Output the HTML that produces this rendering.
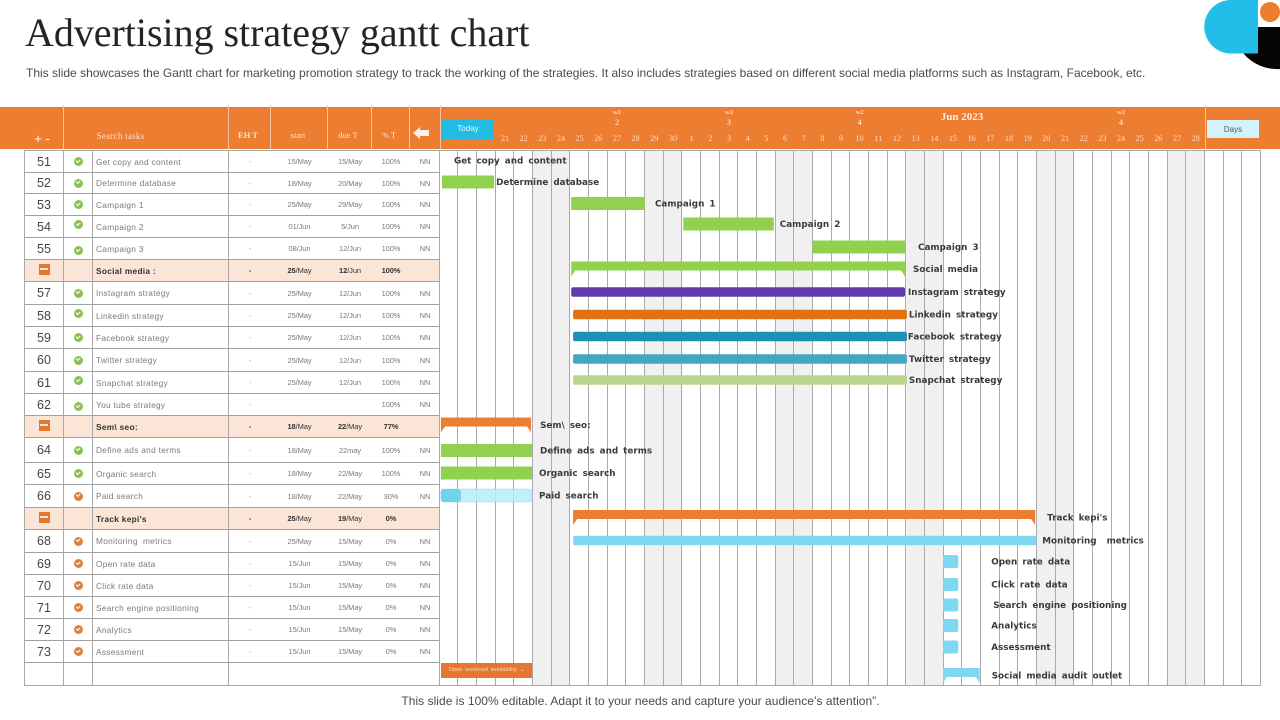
<!DOCTYPE html>
<html lang="en">
<head>
<meta charset="utf-8">
<title>Advertising strategy gantt chart</title>
<style>
html,body{margin:0;padding:0;background:#fff}
#page{position:relative;width:1280px;height:720px;overflow:hidden;background:#fff;font-family:"Liberation Sans",sans-serif}
.abs{position:absolute;white-space:nowrap}
#title{left:25px;top:11px;font:40px/44px "Liberation Serif",serif;color:#252525;letter-spacing:-.03px}
#subtitle{left:26px;top:66px;font-size:12px;line-height:15px;color:#4a4a4a;letter-spacing:.005px}
#footer{left:0;width:1281px;text-align:center;top:694px;font-size:12px;line-height:15px;color:#4a4a4a;letter-spacing:.03px}
#header-band{left:0;top:107px;width:1280px;height:42px;background:#ed7d31}
.hsep{position:absolute;top:105px;height:44px;width:1px;background:#f4c6a5}
.ht{position:absolute;font-family:"Liberation Serif",serif;color:#fbe3d2;font-size:8.5px;line-height:10px;text-align:center;transform:translateX(-50%);white-space:nowrap}
#today{left:442px;top:119px;width:52px;height:20px;background:#22bbe3;color:#e8fbff;font-size:8px;line-height:20px;text-align:center}
#days{left:1207px;top:120px;width:52px;height:18px;background:#d3f2fb;color:#555;font-size:8px;line-height:19px;text-align:center}
#grid{position:absolute;left:24px;top:150px;width:416px;border-collapse:separate;border-spacing:0;table-layout:fixed;border-top:1px solid #a8a8a8;border-left:1px solid #aaa;box-sizing:border-box}
#grid td{box-sizing:border-box;padding:0;border-bottom:1px solid #a0a0a0;font-size:7.5px;color:#7a7a7a;text-align:center;vertical-align:middle;white-space:nowrap;overflow:hidden;letter-spacing:-.1px}
#grid td.n{font-size:12.5px;color:#444;border-right:1px solid #aaa;letter-spacing:0}
#grid td.i{border-right:1px solid #aaa;line-height:0}
#grid td.t{text-align:left;padding-left:3px;border-right:1px solid #aaa;font-size:8.3px;letter-spacing:.3px}
#grid td.d{color:#aaa}
#grid tr.s td{background:#fbe5d6;color:#333}
#grid tr.s td.t{font-weight:bold;color:#333}
#grid tr.s td b{color:#333}
.ic{display:inline-block;width:9px;height:9px;border-radius:50%;background:#8cc152;position:relative}
.ic:after{content:"";position:absolute;left:2.3px;top:1.8px;width:3.4px;height:1.8px;border-left:1.3px solid #fff;border-bottom:1.3px solid #fff;transform:rotate(-45deg)}
.ic.o{background:#dd7f3e}
.up{top:-2px}.dn{top:2px}
.minus{display:inline-block;width:11px;height:11px;background:#e5782e;position:relative}
.minus:after{content:"";position:absolute;left:1.5px;top:4.5px;width:8px;height:2px;background:#fbe5d6}
#workload{left:441px;top:663px;width:91px;height:15px;background:#e5782e;color:#fbdcc4;font-size:5.5px;line-height:15px;text-align:center;letter-spacing:.1px;word-spacing:1px}
#chart{position:absolute;left:0;top:0;width:1280px;height:720px}
</style>
</head>
<body>
<div id="page">
  <div id="title" class="abs">Advertising strategy gantt chart</div>
  <div id="subtitle" class="abs">This slide showcases the Gantt chart for marketing promotion strategy to track the working of the strategies. It also includes strategies based on different social media platforms such as Instagram, Facebook, etc.</div>

  <svg class="abs" style="left:1200px;top:0" width="80" height="72" viewBox="1200 0 80 72">
    <path d="M1258 27H1280V69A44 44 0 0 1 1243 53H1258Z" fill="#050505"/>
    <path d="M1231 0H1258V53.500H1231A26.750 26.750 0 0 1 1231 0Z" fill="#22bde8"/>
    <circle cx="1270" cy="12" r="10" fill="#ed7d31"/>
  </svg>

  <div id="header-band" class="abs"></div>
  <div class="hsep" style="left:63px"></div>
  <div class="hsep" style="left:228px"></div>
  <div class="hsep" style="left:270px"></div>
  <div class="hsep" style="left:327px"></div>
  <div class="hsep" style="left:371px"></div>
  <div class="hsep" style="left:409px"></div>
  <div class="hsep" style="left:440px"></div>
  <div class="hsep" style="left:1205px"></div>

  <div class="ht" style="left:42px;top:133px;font:13px/11px 'Liberation Sans',sans-serif;color:#fff">+ -</div>
  <div class="ht" style="left:120.500px;top:131px;font-size:9px;letter-spacing:.25px">Search tasks</div>
  <div class="ht" style="left:248px;top:130px;font-weight:bold">EH T</div>
  <div class="ht" style="left:298px;top:130px">start</div>
  <div class="ht" style="left:348px;top:130px">due T</div>
  <div class="ht" style="left:389px;top:130px">% T</div>
  <svg class="abs" style="left:413px;top:127px" width="16" height="12" viewBox="0 0 16 12"><path d="M0 6L7 0V3H16V9H7V12Z" fill="#fdf0e6"/></svg>
  <div id="today" class="abs">Today</div>
  <div id="days" class="abs">Days</div>
  <div class="ht" style="left:962px;top:111px;font-size:11px;line-height:12px;font-weight:bold;color:#fdeee2">Jun 2023</div>

  <table id="grid">
    <colgroup><col style="width:39px"><col style="width:29px"><col style="width:136px"><col style="width:42px"><col style="width:57px"><col style="width:44px"><col style="width:38px"><col style="width:30px"></colgroup>
    <tbody>
      <tr style="height:22px"><td class="n">51</td><td class="i"><span class="ic"></span></td><td class="t">Get copy and content</td><td class="d">-</td><td>15/May</td><td>15/May</td><td>100%</td><td>NN</td></tr>
      <tr style="height:21px"><td class="n">52</td><td class="i"><span class="ic"></span></td><td class="t">Determine database</td><td class="d">-</td><td>18/May</td><td>20/May</td><td>100%</td><td>NN</td></tr>
      <tr style="height:22px"><td class="n">53</td><td class="i"><span class="ic"></span></td><td class="t">Campaign 1</td><td class="d">-</td><td>25/May</td><td>29/May</td><td>100%</td><td>NN</td></tr>
      <tr style="height:22px"><td class="n">54</td><td class="i"><span class="ic up"></span></td><td class="t">Campaign 2</td><td class="d">-</td><td>01/Jun</td><td>5/Jun</td><td>100%</td><td>NN</td></tr>
      <tr style="height:22px"><td class="n">55</td><td class="i"><span class="ic dn"></span></td><td class="t">Campaign 3</td><td class="d">-</td><td>08/Jun</td><td>12/Jun</td><td>100%</td><td>NN</td></tr>
      <tr class="s" style="height:22px"><td class="n"><span class="minus"></span></td><td class="i"></td><td class="t">Social media :</td><td><b>-</b></td><td><b>25</b>/May</td><td><b>12</b>/Jun</td><td><b>100%</b></td><td></td></tr>
      <tr style="height:23px"><td class="n">57</td><td class="i"><span class="ic"></span></td><td class="t">Instagram strategy</td><td class="d">-</td><td>25/May</td><td>12/Jun</td><td>100%</td><td>NN</td></tr>
      <tr style="height:22px"><td class="n">58</td><td class="i"><span class="ic up"></span></td><td class="t">Linkedin strategy</td><td class="d">-</td><td>25/May</td><td>12/Jun</td><td>100%</td><td>NN</td></tr>
      <tr style="height:22px"><td class="n">59</td><td class="i"><span class="ic"></span></td><td class="t">Facebook strategy</td><td class="d">-</td><td>25/May</td><td>12/Jun</td><td>100%</td><td>NN</td></tr>
      <tr style="height:23px"><td class="n">60</td><td class="i"><span class="ic"></span></td><td class="t">Twitter strategy</td><td class="d">-</td><td>25/May</td><td>12/Jun</td><td>100%</td><td>NN</td></tr>
      <tr style="height:22px"><td class="n">61</td><td class="i"><span class="ic up"></span></td><td class="t">Snapchat strategy</td><td class="d">-</td><td>25/May</td><td>12/Jun</td><td>100%</td><td>NN</td></tr>
      <tr style="height:22px"><td class="n">62</td><td class="i"><span class="ic dn"></span></td><td class="t">You tube strategy</td><td class="d">-</td><td></td><td></td><td>100%</td><td>NN</td></tr>
      <tr class="s" style="height:22px"><td class="n"><span class="minus"></span></td><td class="i"></td><td class="t">Sem\ seo:</td><td><b>-</b></td><td><b>18</b>/May</td><td><b>22</b>/May</td><td><b>77%</b></td><td></td></tr>
      <tr style="height:25px"><td class="n">64</td><td class="i"><span class="ic"></span></td><td class="t">Define ads and terms</td><td class="d">-</td><td>18/May</td><td>22may</td><td>100%</td><td>NN</td></tr>
      <tr style="height:22px"><td class="n">65</td><td class="i"><span class="ic"></span></td><td class="t">Organic search</td><td class="d">-</td><td>18/May</td><td>22/May</td><td>100%</td><td>NN</td></tr>
      <tr style="height:23px"><td class="n">66</td><td class="i"><span class="ic o"></span></td><td class="t">Paid search</td><td class="d">-</td><td>18/May</td><td>22/May</td><td>30%</td><td>NN</td></tr>
      <tr class="s" style="height:22px"><td class="n"><span class="minus"></span></td><td class="i"></td><td class="t">Track kepi's</td><td><b>-</b></td><td><b>25</b>/May</td><td><b>19</b>/May</td><td><b>0%</b></td><td></td></tr>
      <tr style="height:23px"><td class="n">68</td><td class="i"><span class="ic o"></span></td><td class="t">Monitoring&nbsp; metrics</td><td class="d">-</td><td>25/May</td><td>15/May</td><td>0%</td><td>NN</td></tr>
      <tr style="height:22px"><td class="n">69</td><td class="i"><span class="ic o"></span></td><td class="t">Open rate data</td><td class="d">-</td><td>15/Jun</td><td>15/May</td><td>0%</td><td>NN</td></tr>
      <tr style="height:22px"><td class="n">70</td><td class="i"><span class="ic o"></span></td><td class="t">Click rate data</td><td class="d">-</td><td>15/Jun</td><td>15/May</td><td>0%</td><td>NN</td></tr>
      <tr style="height:22px"><td class="n">71</td><td class="i"><span class="ic o"></span></td><td class="t">Search engine positioning</td><td class="d">-</td><td>15/Jun</td><td>15/May</td><td>0%</td><td>NN</td></tr>
      <tr style="height:22px"><td class="n">72</td><td class="i"><span class="ic o"></span></td><td class="t">Analytics</td><td class="d">-</td><td>15/Jun</td><td>15/May</td><td>0%</td><td>NN</td></tr>
      <tr style="height:22px"><td class="n">73</td><td class="i"><span class="ic o"></span></td><td class="t">Assessment</td><td class="d">-</td><td>15/Jun</td><td>15/May</td><td>0%</td><td>NN</td></tr>
      <tr style="height:23px"><td class="n"></td><td class="i"></td><td class="t"></td><td></td><td></td><td></td><td></td><td></td></tr>
    </tbody>
  </table>

  <svg id="chart" viewBox="0 0 1280 720"></svg>

  <div id="workload" class="abs">Open workload availability &#8964;</div>
  <div id="footer" class="abs">This slide is 100% editable. Adapt it to your needs and capture your audience&#8217;s attention&#8221;.</div>
</div>

<script>
/* ---- chart data: one entry per timeline bar; days counted from the first grid column ---- */
const dayLabels = [21,22,23,24,25,26,27,28,29,30,1,2,3,4,5,6,7,8,9,10,11,12,13,14,15,16,17,18,19,20,21,22,23,24,25,26,27,28];
const weekendDays = [5,6,11,12,18,19,25,26,32,33,39,40];
const weekDays = [9,15,22,36];
const weekNumbers = [2,3,4,4];
const taskLabels = ["Get copy and content","Determine database","Campaign 1","Campaign 2","Campaign 3","Social media","Instagram strategy","Linkedin strategy","Facebook strategy","Twitter strategy","Snapchat strategy","Sem\\ seo:","Define ads and terms","Organic search","Paid search","Track kepi's","Monitoring  metrics","Open rate data","Click rate data","Search engine positioning","Analytics","Assessment","Social media audit outlet"];
const taskRows = [0,1,2,3,4,5,6,7,8,9,10,12,13,14,15,16,17,18,19,20,21,22,23];
const startDays = [0,0.13,7.05,13.05,19.97,7.05,7.05,7.15,7.15,7.15,7.15,0.07,0.07,0.07,0.07,7.15,7.15,26.96,26.96,26.96,26.96,26.96,26.96];
const endDays = [0,2.92,11,17.9,24.93,24.93,24.93,25.03,25.03,25.03,25.03,4.9,4.95,4.95,4.95,31.9,31.96,27.78,27.78,27.78,27.78,27.78,28.93];
const percentDone = [100,100,100,100,100,100,100,100,100,100,100,77,100,100,22,0,0,0,0,0,0,0,0];
const barKinds = ["none","green","green","green","green","group-green","purple","orange","teal","blue","sage","group-orange","green","green","partial","group-orange","sky","sky","sky","sky","sky","sky","group-sky"];

/* ---- layout and style (not data) ---- */
const SVG_NS = "http://www.w3.org/2000/svg";
const chart = document.getElementById("chart");
const GRID_LEFT = 439.6, DAY_WIDTH = 18.67, DAY_COUNT = 44, GRID_TOP = 150, GRID_BOTTOM = 685;
const rowHeights = [22,21,22,22,22,22,23,22,22,23,22,22,25,22,23,22,23,22,22,22,22,22,22,23];
const laneNudges = {3:-1.5,4:-0.5,10:-1.5,12:-1.5,18:-1,20:-1.5,21:-3,22:-3.5,23:3};
const kindFill = {green:"#92d050",purple:"#6039aa",orange:"#e2720f",teal:"#1b91b3",blue:"#45a6c2",sage:"#b9d48b",sky:"#7fd8f2",partial:"#b9ecf9","group-green":"#92d050","group-orange":"#ed7d31","group-sky":"#7fd8f2"};
const labelGaps = [14.4,2,10,6,13,8,3,2,1,2,2,9,8,7,7,12,6,33,33,35,33,33,12];

function xOf(day){ return GRID_LEFT + day * DAY_WIDTH; }
function rowTop(row){ let y = GRID_TOP; for(let i = 0; i < row; i++){ y += rowHeights[i]; } return y; }
function rowCenter(row){ return rowTop(row) + rowHeights[row] / 2 + (laneNudges[row] || 0); }
function crisp(v){ return Math.round(v) - 0.5; }
function make(tag, attrs, parent){
  const el = document.createElementNS(SVG_NS, tag);
  for(const k in attrs){ el.setAttribute(k, attrs[k]); }
  (parent || chart).appendChild(el);
  return el;
}

/* weekend shading */
weekendDays.forEach(function(d){
  const el = make("rect", {x:xOf(d), y:GRID_TOP, width:DAY_WIDTH, height:GRID_BOTTOM-GRID_TOP, fill:"#f0f0f0"});
  
  
});
/* vertical day lines */
for(let d = 0; d <= DAY_COUNT; d++){
  const lineX = crisp(xOf(d));
  const el = make("line", {x1:lineX, x2:lineX, y1:GRID_TOP, y2:GRID_BOTTOM, stroke:"#aaaaaa", "stroke-width":1});
  
  
}
/* top and bottom rules */
[GRID_TOP, GRID_BOTTOM].forEach(function(y){
  const el = make("line", {x1:24, x2:xOf(DAY_COUNT), y1:y+0.5, y2:y+0.5, stroke:"#aaaaaa", "stroke-width":1});
  
  
});
/* day tick labels: labels begin at the fourth grid column */
dayLabels.forEach(function(label, i){
  const el = make("text", {x:xOf(i + 3.5), y:141, "text-anchor":"middle", "font-family":"Liberation Serif, serif", "font-size":8, fill:"#fbdcc4"});
  el.textContent = label;
  
  
});
/* week labels */
weekDays.forEach(function(day, i){
  const a = make("text", {x:xOf(day + 0.5), y:114, "text-anchor":"middle", "font-family":"Liberation Serif, serif", "font-size":6.5, "font-weight":"bold", fill:"#fbdcc4"});
  a.textContent = "w2";
  
  
  const b = make("text", {x:xOf(day + 0.5), y:125, "text-anchor":"middle", "font-family":"Liberation Serif, serif", "font-size":8, "font-weight":"bold", fill:"#fbdcc4"});
  b.textContent = weekNumbers[i];
  
  
});
/* bars */
taskLabels.forEach(function(label, i){
  const x0 = xOf(startDays[i]), x1 = xOf(endDays[i]), kind = barKinds[i];
  const cy = rowCenter(taskRows[i]) - 0.5;
  const slim = ["purple","orange","teal","blue","sage"].indexOf(kind) >= 0 || (kind === "sky" && i === 16);
  const isGroup = kind.indexOf("group") === 0;
  let mark = null;
  if(isGroup){
    const top = cy - 8, tip = 15, bar = 9;
    mark = make("polygon", {points:[x0,top, x1,top, x1,top+tip, x1-4,top+bar, x0+4,top+bar, x0,top+tip].join(" "), fill:kindFill[kind]});
  } else if(kind === "partial"){
    mark = make("rect", {x:x0, y:cy-6.5, width:x1-x0, height:13, rx:3, fill:kindFill[kind], "fill-opacity":0.85, stroke:"#8fdcef", "stroke-width":0.6});
    const done = make("rect", {x:x0, y:cy-6.5, width:(x1-x0)*percentDone[i]/100, height:13, rx:3, fill:"#6fd3f0"});
    
    
  } else if(kind !== "none"){
    const h = slim ? 9.5 : 13;
    mark = make("rect", {x:x0, y:cy-h/2, width:x1-x0, height:h, rx:slim || kind === "sky" ? 2 : 0, fill:kindFill[kind]});
  }
  if(mark){
    
    
  }
  const text = make("text", {x:x1 + labelGaps[i], y:cy + (isGroup ? 2.5 : 3), "font-family":"DejaVu Sans, sans-serif", "font-size":8.8, "font-weight":"bold", "word-spacing":"2px", fill:"#3a3a3a", style:"white-space:pre"});
  text.textContent = label;
  
  
});
</script>
</body>
</html>
